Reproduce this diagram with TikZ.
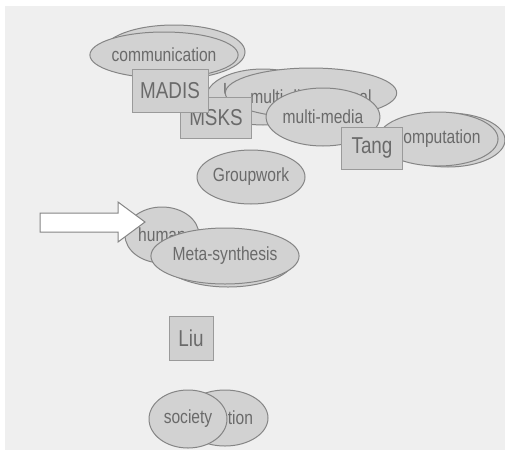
\documentclass[tikz,border=0pt]{standalone}
\usepackage{fontspec}
\newfontfamily\cfont[FakeStretch=0.82]{Liberation Sans}
\usetikzlibrary{shapes.geometric}
\definecolor{bggray}{HTML}{EFEFEF}
\definecolor{ellgray}{HTML}{D2D2D2}
\definecolor{edgegray}{HTML}{858585}
\definecolor{boxgray}{HTML}{D0D0D0}
\definecolor{boxedge}{HTML}{9A9A9A}
\definecolor{txtgray}{HTML}{6A6A6A}
\tikzset{
  ell/.style={ellipse, draw=edgegray, fill=ellgray, line width=1pt, text=txtgray,
    font=\cfont\fontsize{19}{19}\selectfont, inner sep=0pt},
  boxnode/.style={rectangle, draw=boxedge, fill=boxgray, line width=1pt, text=txtgray,
    font=\cfont\fontsize{23}{23}\selectfont, inner sep=0pt},
}
\begin{document}
\begin{tikzpicture}[x=1pt,y=-1pt]
\useasboundingbox (0,0) rectangle (505,450);
\fill[white] (0,0) rectangle (505,450);
\fill[bggray] (5,6) rectangle (505,450);
% communication
\node[ell, minimum width=142pt, minimum height=54pt] (commb) at (174,52) {};
\node[ell, minimum width=132pt, minimum height=46pt] (comm) at (164,55) {communication};
% U and multi-dimensional
\node[ell, minimum width=100pt, minimum height=56pt, text width=80pt, align=left] (univ) at (263,97) {\raisebox{1pt}[0pt][0pt]{U}};
\node[ell, minimum width=146pt, minimum height=50pt] (mdim) at (311,93) {\raisebox{-10pt}[0pt][0pt]{multi-dimensional}};
% boxes
\node[boxnode, minimum width=71pt, minimum height=41pt] (msks) at (216,118) {MSKS};
\node[boxnode, minimum width=76pt, minimum height=43pt] (madis) at (170,91) {MADIS};
% multi-media
\node[ell, minimum width=104pt, minimum height=58pt] (mmedia) at (323,117) {multi-media};
% computation
\node[ell, minimum width=114pt, minimum height=54pt] (compb) at (448,140) {};
\node[ell, minimum width=108pt, minimum height=54pt] (comp) at (438,139) {computation};
\node[boxnode, minimum width=61pt, minimum height=42pt] (tang) at (372,148) {Tang};
% Groupwork
\node[ell, minimum width=108pt, minimum height=54pt] (group) at (251,177) {Groupwork};
% human
\node[ell, minimum width=74pt, minimum height=56pt] (human) at (162,235) {human};
% arrow
\draw[edgegray, fill=white, line width=1pt] (40,213) -- (118,213) -- (118,202) -- (145,222)
  -- (118,242) -- (118,232) -- (40,232) -- cycle;
% Meta-synthesis
\node[ell, minimum width=132pt, minimum height=56pt] (metab) at (228,259) {};
\node[ell, minimum width=136pt, minimum height=56pt] (meta) at (225,256) {Meta-synthesis};
% Liu
\node[boxnode, minimum width=44pt, minimum height=44pt] (liu) at (191,338) {Liu};
% society
\node[ell, minimum width=86pt, minimum height=56pt, text width=56pt, align=right] (rel) at (225,418) {tion};
\node[ell, minimum width=78pt, minimum height=58pt] (soc) at (188,419) {society};
\end{tikzpicture}
\end{document}
